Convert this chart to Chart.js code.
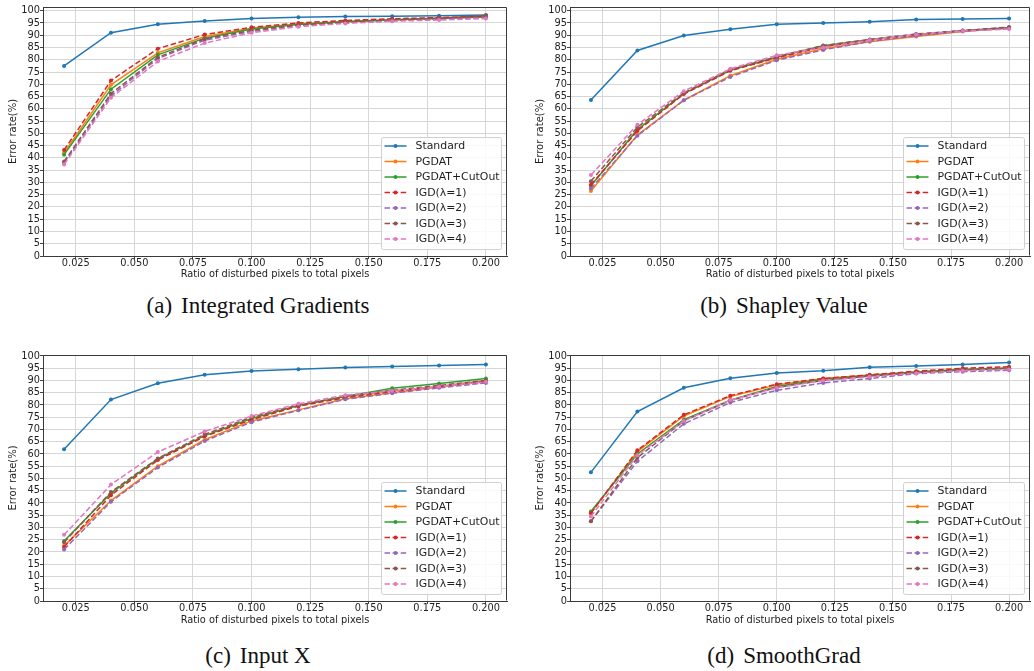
<!DOCTYPE html>
<html><head><meta charset="utf-8">
<script src="https://cdn.jsdelivr.net/npm/chart.js@4.4.1/dist/chart.umd.min.js"></script>
<style>
html,body{margin:0;padding:0;background:#fff;}
body{width:1034px;height:671px;position:relative;overflow:hidden;}
canvas{position:absolute;display:block;}
.cap{position:absolute;font-family:"Liberation Serif","Times New Roman",serif;font-size:23px;line-height:23px;color:#111;white-space:nowrap;transform:translateX(-50%);}
.cap span{margin-right:9px;}
</style></head><body>
<canvas id="ca" width="517" height="290" style="left:0px;top:0px"></canvas>
<canvas id="cb" width="507" height="290" style="left:527px;top:0px"></canvas>
<canvas id="cc" width="517" height="290" style="left:0px;top:340px"></canvas>
<canvas id="cd" width="507" height="290" style="left:527px;top:340px"></canvas>
<div class="cap" style="left:258px;top:294px"><span>(a)</span>Integrated Gradients</div>
<div class="cap" style="left:784px;top:294px"><span>(b)</span>Shapley Value</div>
<div class="cap" style="left:258px;top:644px"><span>(c)</span>Input X</div>
<div class="cap" style="left:784px;top:644px"><span>(d)</span>SmoothGrad</div>
<script>
// ---------- data ----------
const xValues = [0.02, 0.04, 0.06, 0.08, 0.10, 0.12, 0.14, 0.16, 0.18, 0.20];
const xTicks = [0.025, 0.05, 0.075, 0.1, 0.125, 0.15, 0.175, 0.2];
const yTicks = [0,5,10,15,20,25,30,35,40,45,50,55,60,65,70,75,80,85,90,95,100];
const seriesNames = ['Standard','PGDAT','PGDAT+CutOut','IGD(λ=1)','IGD(λ=2)','IGD(λ=3)','IGD(λ=4)'];
const xTitle = 'Ratio of disturbed pixels to total pixels';
const yTitle = 'Error rate(%)';

// (a) Integrated Gradients
const igStandard = [77.5, 91.0, 94.5, 95.8, 96.8, 97.3, 97.6, 97.7, 97.9, 98.2];
const igPGDAT    = [42.0, 69.8, 82.8, 89.5, 92.8, 94.6, 95.6, 96.3, 96.9, 97.6];
const igCutOut   = [41.3, 68.0, 82.0, 88.8, 92.5, 94.4, 95.5, 96.2, 96.8, 97.4];
const igIGD1     = [43.2, 71.5, 84.5, 90.3, 93.2, 95.0, 96.0, 96.7, 97.2, 97.8];
const igIGD2     = [38.0, 65.3, 80.5, 88.0, 91.5, 94.0, 95.1, 96.0, 96.6, 97.2];
const igIGD3     = [38.5, 66.2, 81.0, 88.5, 92.0, 94.2, 95.3, 96.2, 96.9, 98.0];
const igIGD4     = [37.3, 64.5, 79.3, 86.8, 91.0, 93.5, 94.8, 95.7, 96.2, 96.8];

// (b) Shapley Value
const svStandard = [63.6, 83.8, 89.9, 92.4, 94.5, 95.0, 95.5, 96.4, 96.6, 96.8];
const svPGDAT    = [26.5, 49.3, 63.5, 73.5, 80.2, 84.5, 87.3, 89.5, 91.5, 92.8];
const svCutOut   = [28.6, 51.5, 66.2, 75.7, 81.0, 85.7, 88.2, 90.2, 91.8, 93.0];
const svIGD1     = [29.0, 51.0, 66.0, 75.5, 80.8, 85.3, 88.0, 90.0, 91.8, 93.0];
const svIGD2     = [27.5, 49.0, 63.5, 73.0, 79.8, 84.0, 87.5, 89.8, 91.6, 93.0];
const svIGD3     = [30.5, 52.5, 66.5, 76.0, 81.3, 85.8, 88.3, 90.5, 91.9, 93.3];
const svIGD4     = [33.0, 53.5, 67.2, 76.3, 81.8, 85.0, 88.0, 90.3, 91.7, 92.5];

// (c) Input X
const ixStandard = [61.9, 82.2, 88.9, 92.3, 93.9, 94.6, 95.3, 95.7, 96.1, 96.5];
const ixPGDAT    = [22.5, 41.0, 55.0, 65.8, 73.5, 78.0, 82.5, 85.0, 87.3, 89.5];
const ixCutOut   = [24.5, 44.0, 58.0, 67.5, 74.5, 79.8, 83.5, 86.8, 88.8, 90.8];
const ixIGD1     = [22.0, 43.2, 57.5, 67.2, 74.0, 79.5, 83.0, 85.5, 87.5, 90.0];
const ixIGD2     = [21.0, 40.5, 54.5, 65.3, 73.0, 77.8, 82.3, 84.8, 87.0, 89.0];
const ixIGD3     = [24.0, 44.5, 58.2, 68.0, 75.0, 80.0, 83.5, 86.0, 88.0, 90.0];
const ixIGD4     = [27.0, 47.5, 60.8, 69.2, 75.5, 80.5, 84.0, 85.8, 87.5, 89.5];

// (d) SmoothGrad
const sgStandard = [52.5, 77.3, 87.0, 90.9, 93.1, 94.0, 95.4, 95.9, 96.5, 97.3];
const sgPGDAT    = [36.0, 61.0, 75.5, 83.5, 88.2, 90.8, 92.2, 93.5, 94.5, 95.0];
const sgCutOut   = [36.5, 60.0, 74.0, 82.0, 87.5, 90.5, 92.0, 93.5, 94.5, 95.0];
const sgIGD1     = [35.8, 61.5, 76.0, 83.8, 88.5, 90.8, 92.3, 93.8, 95.0, 95.6];
const sgIGD2     = [32.5, 57.0, 72.3, 81.0, 86.0, 89.0, 90.8, 92.8, 93.6, 94.2];
const sgIGD3     = [32.5, 58.5, 73.5, 81.8, 87.2, 90.0, 91.8, 93.2, 94.3, 95.0];
const sgIGD4     = [34.5, 59.5, 73.5, 82.0, 87.0, 90.0, 91.5, 93.0, 94.0, 94.5];

// ---------- styles ----------
const seriesColors = ['#1f77b4','#ff7f0e','#2ca02c','#d62728','#9467bd','#8c564b','#e377c2'];
const seriesDashed = [false,false,false,true,true,true,true];
const SANS = '"DejaVu Sans", sans-serif';
const TXT = '#1e1e1e';

const legendPlugin = {
  id: 'innerLegend',
  afterDraw(chart) {
    const ctx = chart.ctx, a = chart.chartArea;
    const w = chart.options.legendBoxWidth, h = 112;
    const x = Math.round(a.right - 6 - w) + 0.5, y = Math.round(a.bottom - 7 - h) + 0.5;
    ctx.save();
    ctx.beginPath();
    if (ctx.roundRect) ctx.roundRect(x, y, w, h, 2); else ctx.rect(x, y, w, h);
    ctx.fillStyle = 'rgba(255,255,255,0.85)';
    ctx.fill();
    ctx.strokeStyle = '#d0d0d0';
    ctx.lineWidth = 1;
    ctx.stroke();
    chart.data.datasets.forEach((ds, i) => {
      const cy = y + 8.5 + i * 15.5;
      ctx.strokeStyle = ds.borderColor;
      ctx.lineWidth = ds.borderWidth;
      ctx.setLineDash(ds.borderDash || []);
      ctx.beginPath();
      ctx.moveTo(x + 3, cy);
      ctx.lineTo(x + 25, cy);
      ctx.stroke();
      ctx.setLineDash([]);
      ctx.beginPath();
      ctx.arc(x + 14, cy, 2, 0, Math.PI * 2);
      ctx.fillStyle = ds.borderColor;
      ctx.fill();
      ctx.fillStyle = TXT;
      ctx.font = '10.9px ' + SANS;
      ctx.textBaseline = 'middle';
      ctx.textAlign = 'left';
      ctx.fillText(ds.label, x + 34, cy + 0.5);
    });
    ctx.restore();
  }
};

const framePlugin = {
  id: 'frame',
  afterDatasetsDraw(chart) {
    const ctx = chart.ctx, a = chart.chartArea;
    ctx.save();
    ctx.strokeStyle = '#3a3a3a';
    ctx.lineWidth = 1;
    ctx.beginPath();
    ctx.moveTo(Math.round(a.left) + 0.5, Math.round(a.top) + 0.5);
    ctx.lineTo(Math.round(a.right) - 0.5, Math.round(a.top) + 0.5);
    ctx.lineTo(Math.round(a.right) - 0.5, Math.round(a.bottom) - 0.5);
    ctx.stroke();
    ctx.restore();
  }
};

function makePanel(id, series, g) {
  const datasets = series.map((vals, i) => ({
    label: seriesNames[i],
    data: xValues.map((x, k) => ({x: x, y: vals[k]})),
    borderColor: seriesColors[i],
    backgroundColor: seriesColors[i],
    borderWidth: 1.5,
    borderDash: seriesDashed[i] ? [5.5, 2.6] : [],
    pointRadius: 2,
    pointBorderWidth: 0,
    pointBackgroundColor: seriesColors[i],
    tension: 0,
    order: series.length - i
  }));
  new Chart(document.getElementById(id), {
    type: 'line',
    data: {datasets},
    plugins: [framePlugin, legendPlugin],
    options: {
      responsive: false,
      animation: false,
      devicePixelRatio: 1,
      legendBoxWidth: g.lw,
      layout: {padding: {top: g.top, right: g.right, left: 0, bottom: 0}},
      plugins: {legend: {display: false}, tooltip: {enabled: false}},
      scales: {
        x: {
          type: 'linear', position: 'bottom', min: 0.011, max: 0.209,
          afterBuildTicks: s => { s.ticks = xTicks.map(v => ({value: v})); },
          afterFit: s => { s.height = g.xh; },
          ticks: {color: TXT, font: {family: SANS, size: 9.8, lineHeight: 1}, padding: 0, maxRotation: 0, autoSkip: false,
                  callback: v => Number(v).toFixed(3)},
          grid: {color: '#d6d6d6', lineWidth: 1, drawTicks: true, tickLength: 3, tickColor: '#444'},
          border: {display: true, color: '#3a3a3a', width: 1},
          title: {display: true, text: xTitle, color: TXT, font: {family: SANS, size: 9.8}, padding: {top: 0, bottom: g.xtp}}
        },
        y: {
          type: 'linear', position: 'left', min: 0, max: g.ymax,
          afterBuildTicks: s => { s.ticks = yTicks.map(v => ({value: v})); },
          afterFit: s => { s.width = g.yw; },
          ticks: {color: TXT, font: {family: SANS, size: 9.8}, padding: 0, autoSkip: false, callback: v => String(v)},
          grid: {color: '#d6d6d6', lineWidth: 1, drawTicks: true, tickLength: 3, tickColor: '#444'},
          border: {display: true, color: '#3a3a3a', width: 1},
          title: {display: true, text: yTitle, color: TXT, font: {family: SANS, size: 10}, padding: {top: g.ytp, bottom: 0}}
        }
      }
    }
  });
}

makePanel('ca', [igStandard, igPGDAT, igCutOut, igIGD1, igIGD2, igIGD3, igIGD4],
  {top: 7, right: 10, yw: 43, xh: 34, xtp: 9.2, ytp: 7.3, ymax: 101.5, lw: 120});
makePanel('cb', [svStandard, svPGDAT, svCutOut, svIGD1, svIGD2, svIGD3, svIGD4],
  {top: 7, right: 1, yw: 43, xh: 34, xtp: 9.2, ytp: 7.8, ymax: 101.5, lw: 121});
makePanel('cc', [ixStandard, ixPGDAT, ixCutOut, ixIGD1, ixIGD2, ixIGD3, ixIGD4],
  {top: 15, right: 10, yw: 43, xh: 29, xtp: 3.2, ytp: 7.3, ymax: 100.4, lw: 120});
makePanel('cd', [sgStandard, sgPGDAT, sgCutOut, sgIGD1, sgIGD2, sgIGD3, sgIGD4],
  {top: 15, right: 1, yw: 43, xh: 29, xtp: 3.2, ytp: 7.8, ymax: 100.4, lw: 121});
</script>
</body></html>
